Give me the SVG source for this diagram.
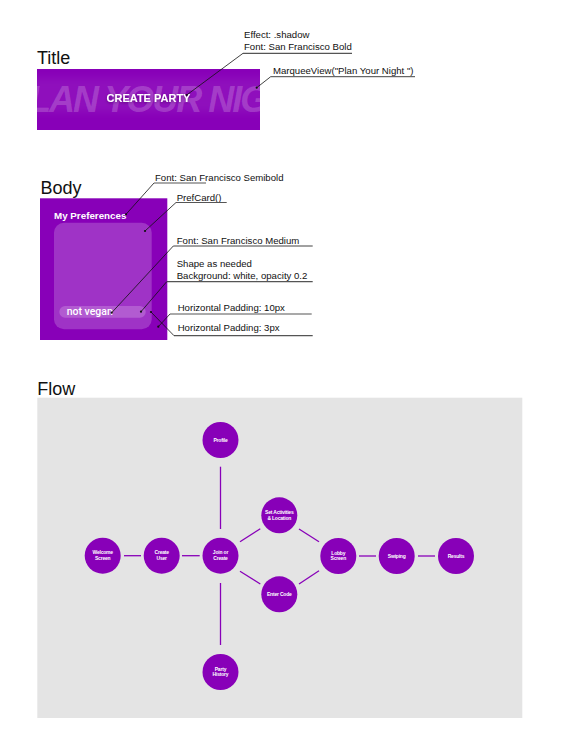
<svg xmlns="http://www.w3.org/2000/svg" width="567" height="747" viewBox="0 0 567 747">
<style>
.h{font-family:"Liberation Sans",Arial,sans-serif;font-size:18px;fill:#111}
.an{font-family:"Liberation Sans",Arial,sans-serif;font-size:9.6px;fill:#111}
.ul{stroke:#555;stroke-width:1.2;fill:none}
.ld{stroke:#111;stroke-width:0.8;fill:none}
.dot{fill:#111}
.node circle{fill:#8800B8}
.node text{font-family:"Liberation Sans",Arial,sans-serif;font-size:5px;font-weight:bold;fill:#fff;text-anchor:middle;letter-spacing:-0.2px}
.cn line{stroke:#8800B8;stroke-width:1.3}
</style>
<defs>
<clipPath id="tc"><rect x="37" y="69" width="223" height="61"/></clipPath>
<filter id="bl" x="-20%" y="-50%" width="140%" height="200%"><feGaussianBlur stdDeviation="4"/></filter>
<filter id="sh" x="-20%" y="-50%" width="140%" height="200%"><feDropShadow dx="0" dy="1" stdDeviation="1.5" flood-color="#000" flood-opacity="0.35"/></filter>
</defs>
<rect width="567" height="747" fill="#fff"/>

<!-- Title section -->
<g id="title-section">
<text class="h" x="37" y="64">Title</text>
<rect x="37" y="69" width="223" height="61" fill="#8800B8"/>
<g clip-path="url(#tc)">
<rect x="30" y="78" width="240" height="34" fill="#fff" opacity="0.06" filter="url(#bl)"/>
<text x="7" y="112" font-family="Liberation Sans,Arial,sans-serif" font-size="36" font-weight="bold" font-style="italic" letter-spacing="-2" fill="#fff" fill-opacity="0.2">PLAN YOUR NIGHT</text>
</g>
<text x="148.5" y="102.3" text-anchor="middle" font-family="Liberation Sans,Arial,sans-serif" font-size="11" font-weight="bold" fill="#fff" filter="url(#sh)">CREATE PARTY</text>
</g>
<g id="title-annotations">
<text class="an" x="244" y="38.3">Effect: .shadow</text>
<text class="an" x="244" y="50">Font: San Francisco Bold</text>
<line class="ul" x1="243" y1="53.3" x2="352" y2="53.3"/>
<line class="ld" x1="243" y1="53.3" x2="186.7" y2="95"/>
<circle class="dot" cx="186.7" cy="95" r="1.1"/>
<text class="an" x="273" y="74.3">MarqueeView("Plan Your Night ")</text>
<line class="ld" x1="270.7" y1="76.7" x2="415" y2="76.7"/>
<line class="ld" x1="270.7" y1="76.7" x2="256.7" y2="87.7"/>
<circle class="dot" cx="256.7" cy="87.7" r="1.1"/>
</g>

<!-- Body section -->
<g id="body-section">
<text class="h" x="40.5" y="194.3">Body</text>
<rect x="40" y="198.3" width="127.3" height="141.7" fill="#8800B8"/>
<text x="54" y="219.3" font-family="Liberation Sans,Arial,sans-serif" font-size="9.8" font-weight="bold" fill="#fff">My Preferences</text>
<rect x="54" y="222.7" width="97.7" height="106.6" rx="10" fill="#fff" fill-opacity="0.2"/>
<rect x="59.3" y="306" width="86.4" height="11.7" rx="5.8" fill="#fff" fill-opacity="0.2"/>
<text x="66.7" y="315.3" font-family="Roboto,'Liberation Sans',Arial,sans-serif" font-size="10.5" font-weight="500" fill="#fff">not vegan</text>
</g>
<g id="body-annotations">
<text class="an" x="155" y="180.7">Font: San Francisco Semibold</text>
<line class="ul" x1="154" y1="183" x2="206" y2="183"/>
<line class="ld" x1="154" y1="183" x2="126" y2="214.3"/>
<circle class="dot" cx="126" cy="214.3" r="1.1"/>

<text class="an" x="176.7" y="200.5">PrefCard()</text>
<line class="ul" x1="176" y1="202.5" x2="226.7" y2="202.5"/>
<line class="ld" x1="176" y1="202.5" x2="145" y2="231"/>
<circle class="dot" cx="145" cy="231" r="1.1"/>

<text class="an" x="176.7" y="244">Font: San Francisco Medium</text>
<line class="ld" x1="173.3" y1="246" x2="312.7" y2="246"/>
<line class="ld" x1="173.3" y1="246" x2="111.7" y2="312.7"/>
<circle class="dot" cx="111.7" cy="312.7" r="1.1"/>

<text class="an" x="176.7" y="267.3">Shape as needed</text>
<text class="an" x="176.7" y="279.3">Background: white, opacity 0.2</text>
<line class="ul" x1="166.7" y1="281.7" x2="312.7" y2="281.7"/>
<line class="ld" x1="166.7" y1="281.7" x2="141" y2="311.7"/>
<circle class="dot" cx="141" cy="311.7" r="1.1"/>

<text class="an" x="177.7" y="311">Horizontal Padding: 10px</text>
<line class="ul" x1="170" y1="314" x2="311.7" y2="314"/>
<line class="ld" x1="170" y1="314" x2="158.3" y2="326.7"/>
<circle class="dot" cx="158.3" cy="326.7" r="1.1"/>

<text class="an" x="177.7" y="331.3">Horizontal Padding: 3px</text>
<line class="ul" x1="174" y1="335.7" x2="312.7" y2="335.7"/>
<line class="ld" x1="174" y1="335.7" x2="151" y2="312"/>
<circle class="dot" cx="151" cy="312" r="1.1"/>
</g>

<!-- Flow section -->
<text class="h" x="37.3" y="395">Flow</text>
<rect x="37.3" y="397.7" width="485" height="320.3" fill="#e4e4e4"/>
<g id="connectors" class="cn">
<line x1="220.5" y1="466.7" x2="220.5" y2="529"/>
<line x1="220.5" y1="583" x2="220.5" y2="645"/>
<line x1="124" y1="555.7" x2="141" y2="555.7"/>
<line x1="182" y1="555.7" x2="199.7" y2="555.7"/>
<line x1="240" y1="541.7" x2="260.3" y2="528.7"/>
<line x1="240" y1="571.3" x2="260.3" y2="584"/>
<line x1="299" y1="529" x2="319" y2="541.7"/>
<line x1="299" y1="584" x2="319" y2="570.7"/>
<line x1="359" y1="556" x2="376" y2="556"/>
<line x1="418" y1="556" x2="435" y2="556"/>
</g>
<g id="profile" class="node"><circle cx="220.5" cy="440" r="18"/><text x="220.5" y="441.8">Profile</text></g>
<g id="welcome" class="node"><circle cx="102.7" cy="555.7" r="18"/><text x="102.7" y="554.2">Welcome</text><text x="102.7" y="559.9">Screen</text></g>
<g id="create-user" class="node"><circle cx="161.7" cy="555.7" r="18"/><text x="161.7" y="554.2">Create</text><text x="161.7" y="559.9">User</text></g>
<g id="join-or-create" class="node"><circle cx="220.5" cy="555.7" r="18"/><text x="220.5" y="554.2">Join or</text><text x="220.5" y="559.9">Create</text></g>
<g id="set-activities" class="node"><circle cx="279.3" cy="515.3" r="18"/><text x="279.3" y="513.8">Set Activities</text><text x="279.3" y="519.5">&amp; Location</text></g>
<g id="enter-code" class="node"><circle cx="279.3" cy="594.3" r="18"/><text x="279.3" y="596.1">Enter Code</text></g>
<g id="party-history" class="node"><circle cx="220.5" cy="672" r="18"/><text x="220.5" y="670.5">Party</text><text x="220.5" y="676.2">History</text></g>
<g id="lobby" class="node"><circle cx="338.3" cy="556" r="18"/><text x="338.3" y="554.5">Lobby</text><text x="338.3" y="560.2">Screen</text></g>
<g id="swiping" class="node"><circle cx="396.7" cy="556" r="18"/><text x="396.7" y="557.8">Swiping</text></g>
<g id="results" class="node"><circle cx="456" cy="556" r="18"/><text x="456" y="557.8">Results</text></g>
</svg>
